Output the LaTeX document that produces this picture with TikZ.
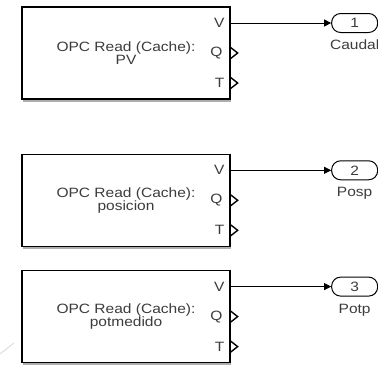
\documentclass[tikz,border=0pt]{standalone}
\usepackage{fontspec}
\setmainfont{Liberation Sans}[FakeStretch=1.15]
\usetikzlibrary{arrows.meta,positioning,shadows}
\definecolor{SimTexto}{RGB}{60,60,60}
\definecolor{SimSombra}{RGB}{140,140,140}
\definecolor{SimTrazo}{RGB}{215,215,215}
\tikzset{
  bloque/.style={draw=black, line width=1.3pt, fill=white, align=center,
                 minimum width=208pt, minimum height=92pt, text=SimTexto,
                 font=\fontsize{13.5}{13.5}\selectfont,
                 drop shadow={shadow xshift=1pt, shadow yshift=-2.5pt, fill=SimSombra, opacity=.7}},
  puerto/.style={text=SimTexto, font=\fontsize{13.5}{13.5}\selectfont, inner sep=0pt, anchor=east},
  chevron/.style={line width=1.4pt, black, line join=miter},
  salida/.style={draw=black, line width=1pt, rounded corners=9pt, fill=white,
                 minimum width=46pt, minimum height=19pt, inner sep=0pt,
                 font=\fontsize{13.5}{13.5}\selectfont, text=SimTexto},
  flecha/.style={-{Triangle[length=7pt,width=7pt]}, line width=0.8pt, black},
  rotulo/.style={font=\fontsize{13.5}{13.5}\selectfont, text=SimTexto, inner sep=0pt},
}

\begin{document}
\begin{tikzpicture}
  \useasboundingbox (0,0) rectangle (378pt,-373pt);

  % Bloques OPC Read
  \node[bloque] (b1) at (126pt,-53pt) {OPC Read (Cache):\\PV};
  \node[bloque, below=54pt of b1] (b2) {OPC Read (Cache):\\posicion};
  \node[bloque, below=23pt of b2] (b3) {OPC Read (Cache):\\potmedido};

  % Puertos V, Q, T
  \coordinate (b1v) at ([yshift=30pt]b1.east);
  \coordinate (b1q) at (b1.east);
  \coordinate (b1t) at ([yshift=-30pt]b1.east);
  \coordinate (b2v) at ([yshift=30pt]b2.east);
  \coordinate (b2q) at (b2.east);
  \coordinate (b2t) at ([yshift=-30pt]b2.east);
  \coordinate (b3v) at ([yshift=30pt]b3.east);
  \coordinate (b3q) at (b3.east);
  \coordinate (b3t) at ([yshift=-30pt]b3.east);

  \node[puerto] (b1vl) at ([xshift=-6pt]b1v) {V};
  \node[puerto] (b1ql) at ([xshift=-8pt]b1q) {Q};
  \node[puerto] (b1tl) at ([xshift=-6pt]b1t) {T};
  \node[puerto] (b2vl) at ([xshift=-6pt]b2v) {V};
  \node[puerto] (b2ql) at ([xshift=-8pt]b2q) {Q};
  \node[puerto] (b2tl) at ([xshift=-6pt]b2t) {T};
  \node[puerto] (b3vl) at ([xshift=-6pt]b3v) {V};
  \node[puerto] (b3ql) at ([xshift=-8pt]b3q) {Q};
  \node[puerto] (b3tl) at ([xshift=-6pt]b3t) {T};

  % Puertos libres
  \draw[chevron] ([yshift=5.5pt]b1q) -- ([xshift=7pt]b1q) -- ([yshift=-5.5pt]b1q);
  \draw[chevron] ([yshift=5.5pt]b1t) -- ([xshift=7pt]b1t) -- ([yshift=-5.5pt]b1t);
  \draw[chevron] ([yshift=5.5pt]b2q) -- ([xshift=7pt]b2q) -- ([yshift=-5.5pt]b2q);
  \draw[chevron] ([yshift=5.5pt]b2t) -- ([xshift=7pt]b2t) -- ([yshift=-5.5pt]b2t);
  \draw[chevron] ([yshift=5.5pt]b3q) -- ([xshift=7pt]b3q) -- ([yshift=-5.5pt]b3q);
  \draw[chevron] ([yshift=5.5pt]b3t) -- ([xshift=7pt]b3t) -- ([yshift=-5.5pt]b3t);

  % Salidas
  \node[salida] (s1) at ([xshift=124pt]b1v) {1};
  \node[salida] (s2) at ([xshift=124pt]b2v) {2};
  \node[salida] (s3) at ([xshift=124pt]b3v) {3};
  \node[rotulo, below=7pt of s1] (r1) {Caudal};
  \node[rotulo, below=7pt of s2] (r2) {Posp};
  \node[rotulo, below=7pt of s3] (r3) {Potp};

  % Flechas
  \draw[flecha] (b1v) -- (s1.west);
  \draw[flecha] (b2v) -- (s2.west);
  \draw[flecha] (b3v) -- (s3.west);

  % Trazo tenue
  \draw[SimTrazo, line width=0.8pt] (0,-354pt) -- (14pt,-343pt);
\end{tikzpicture}
\end{document}
